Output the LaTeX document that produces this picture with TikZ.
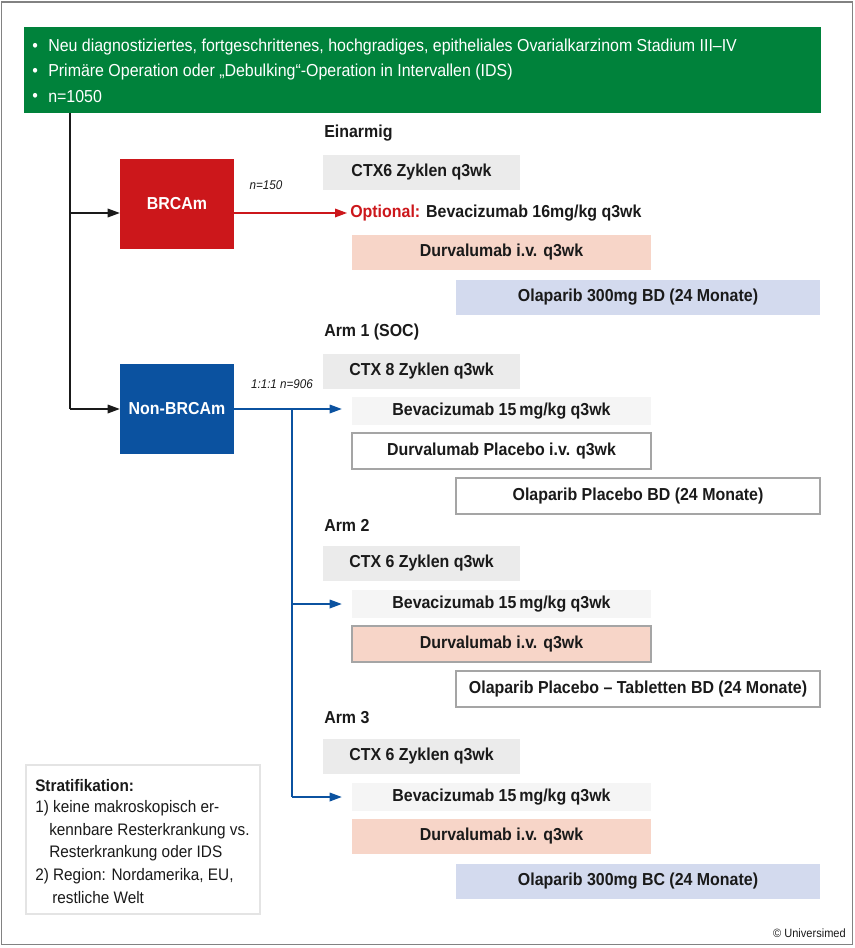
\documentclass[tikz,border=0pt]{standalone}
\usepackage{fontspec}
\setmainfont{Liberation Sans}[FakeStretch=0.92]
\usetikzlibrary{arrows.meta,calc}
\definecolor{popgreen}{RGB}{0,130,59}
\definecolor{brcared}{RGB}{204,23,27}
\definecolor{nonblue}{RGB}{11,82,160}
\definecolor{ctxgray}{RGB}{235,235,235}
\definecolor{bevgray}{RGB}{245,245,245}
\definecolor{durvpink}{RGB}{247,213,200}
\definecolor{olaplav}{RGB}{211,218,238}
\definecolor{boxline}{RGB}{165,165,165}
\definecolor{stratline}{RGB}{228,228,228}
\definecolor{framegray}{RGB}{130,130,130}
\definecolor{txt}{RGB}{26,26,26}
\begin{document}
\begin{tikzpicture}[x=0.75pt,y=-0.75pt,
  wtext/.style={text=white, inner sep=0, font=\fontsize{13}{15}\selectfont, anchor=west},
  lbl/.style={text=txt, inner sep=0, font=\bfseries\fontsize{13}{15}\selectfont},
  bx/.style 2 args={lbl, minimum width=#1*0.75pt, minimum height=#2*0.75pt, inner sep=0},
  plain/.style={text=txt, inner sep=0, font=\fontsize{12.5}{14}\selectfont, anchor=west},
  itl/.style={text=txt, inner sep=0, font=\itshape\fontsize{9.5}{11}\selectfont},
  group/.style={text=white, inner sep=0, font=\bfseries\fontsize{13}{15}\selectfont, minimum width=114*0.75pt, minimum height=90*0.75pt},
  blkarrow/.style={draw=txt, line width=0.9pt, -{Triangle[length=9pt,width=6.5pt]}},
  redarrow/.style={draw=brcared, line width=0.9pt, -{Triangle[length=9pt,width=6.5pt]}},
  bluearrow/.style={draw=nonblue, line width=0.9pt, -{Triangle[length=9pt,width=6.5pt]}},
  blueline/.style={draw=nonblue, line width=0.9pt},
  blkline/.style={draw=txt, line width=0.9pt},
  boxed/.style={draw=boxline, line width=0.8pt}
]
\useasboundingbox (0,0) rectangle (854,948);
\draw[framegray, line width=0.9pt] (1.5,2) rectangle (852.5,944.5);

% population box
\node[fill=popgreen, minimum width=797*0.75pt, minimum height=86*0.75pt, inner sep=0] (pop) at (422.5,70) {};
\node[wtext] (b1) at (32,47) {•};
\node[wtext] (p1) at (48,47) {Neu diagnostiziertes, fortgeschrittenes, hochgradiges, epitheliales Ovarialkarzinom Stadium III–IV};
\node[wtext] (b2) at (32,72) {•};
\node[wtext] (p2) at (48,72) {Primäre Operation oder „Debulking“-Operation in Intervallen (IDS)};
\node[wtext] (b3) at (32,97) {•};
\node[wtext] (p3) at (48,97) {n=1050};

% groups
\node[group, fill=brcared] (brca) at (177,204) {BRCAm};
\node[group, fill=nonblue] (nonbrca) at (177,409) {Non-BRCAm};

\coordinate (trunk) at (70,113);

% Einarmig
\node[lbl, anchor=west] (einarmig) at (324,133) {Einarmig};
\node[bx={197}{35}, fill=ctxgray] (ctxa) at (421.5,172.5) {CTX6 Zyklen q3wk};
\node[lbl, anchor=west] (opt) at (350,213) {\textcolor{brcared}{Optional:} Bevacizumab 16mg/kg q3wk};
\node[bx={299}{35}, fill=durvpink] (durva) at (501.5,252.5) {Durvalumab i.v. q3wk};
\node[bx={364}{35}, fill=olaplav] (olapa) at (638,297.5) {Olaparib 300mg BD (24 Monate)};
\node[itl] (n150) at (266,185) {n=150};

% Arm 1
\node[lbl, anchor=west] (arm1) at (324,332) {Arm 1 (SOC)};
\node[bx={197}{35}, fill=ctxgray] (ctx1) at (421.5,371) {CTX 8 Zyklen q3wk};
\node[bx={299}{28}, fill=bevgray] (bev1) at (501.5,411) {Bevacizumab 15\,mg/kg q3wk};
\node[bx={299}{36}, fill=white, boxed] (durv1) at (501.5,451) {Durvalumab Placebo i.v. q3wk};
\node[bx={364}{36}, fill=white, boxed] (olap1) at (638,496) {Olaparib Placebo BD (24 Monate)};
\node[itl] (n906) at (282,384) {1:1:1 n=906};

% Arm 2
\node[lbl, anchor=west] (arm2) at (324,525) {Arm 2};
\node[bx={197}{35}, fill=ctxgray] (ctx2) at (421.5,563.5) {CTX 6 Zyklen q3wk};
\node[bx={299}{28}, fill=bevgray] (bev2) at (501.5,604) {Bevacizumab 15\,mg/kg q3wk};
\node[bx={299}{36}, fill=durvpink, boxed] (durv2) at (501.5,644) {Durvalumab i.v. q3wk};
\node[bx={364}{36}, fill=white, boxed] (olap2) at (638,689) {Olaparib Placebo – Tabletten BD (24 Monate)};

% Arm 3
\node[lbl, anchor=west] (arm3) at (324,718) {Arm 3};
\node[bx={197}{35}, fill=ctxgray] (ctx3) at (421.5,756.5) {CTX 6 Zyklen q3wk};
\node[bx={299}{28}, fill=bevgray] (bev3) at (501.5,797) {Bevacizumab 15\,mg/kg q3wk};
\node[bx={299}{35}, fill=durvpink] (durv3) at (501.5,836.5) {Durvalumab i.v. q3wk};
\node[bx={364}{35}, fill=olaplav] (olap3) at (638,881.5) {Olaparib 300mg BC (24 Monate)};

% connectors
\draw[blkline] (trunk) -- (trunk |- nonbrca.west);
\draw[blkarrow] (trunk |- opt.west) -- (brca.west |- opt.west);
\draw[blkarrow] (trunk |- nonbrca.west) -- (nonbrca.west);
\draw[redarrow] (brca.east |- opt.west) -- ([xshift=-2.25pt]opt.west);
\coordinate (branch) at (292,409);
\draw[bluearrow] (nonbrca.east) -- ([xshift=-7.5pt]bev1.west |- nonbrca.east);
\draw[blueline] (branch) -- (branch |- bev3.west);
\draw[bluearrow] (branch |- bev2.west) -- ([xshift=-7.5pt]bev2.west);
\draw[bluearrow] (branch |- bev3.west) -- ([xshift=-7.5pt]bev3.west);

% stratification
\node[draw=stratline, line width=1.4pt, fill=white, minimum width=234*0.75pt, minimum height=149*0.75pt, inner sep=0] (strat) at (143,839.5) {};
\node[plain, font=\bfseries\fontsize{12.5}{14}\selectfont] (s0) at (35,786) {Stratifikation:};
\node[plain] (s1) at (35,808) {1) keine makroskopisch er-};
\node[plain] (s2) at (49,831) {kennbare Resterkrankung vs.};
\node[plain] (s3) at (49,853) {Resterkrankung oder IDS};
\node[plain] (s4) at (35,876) {2) Region: Nordamerika, EU,};
\node[plain] (s5) at (52,898) {restliche Welt};

\node[text=txt, inner sep=0, font=\fontsize{9}{11}\selectfont, anchor=east] (copy) at (846,933) {© Universimed};
\end{tikzpicture}
\end{document}
